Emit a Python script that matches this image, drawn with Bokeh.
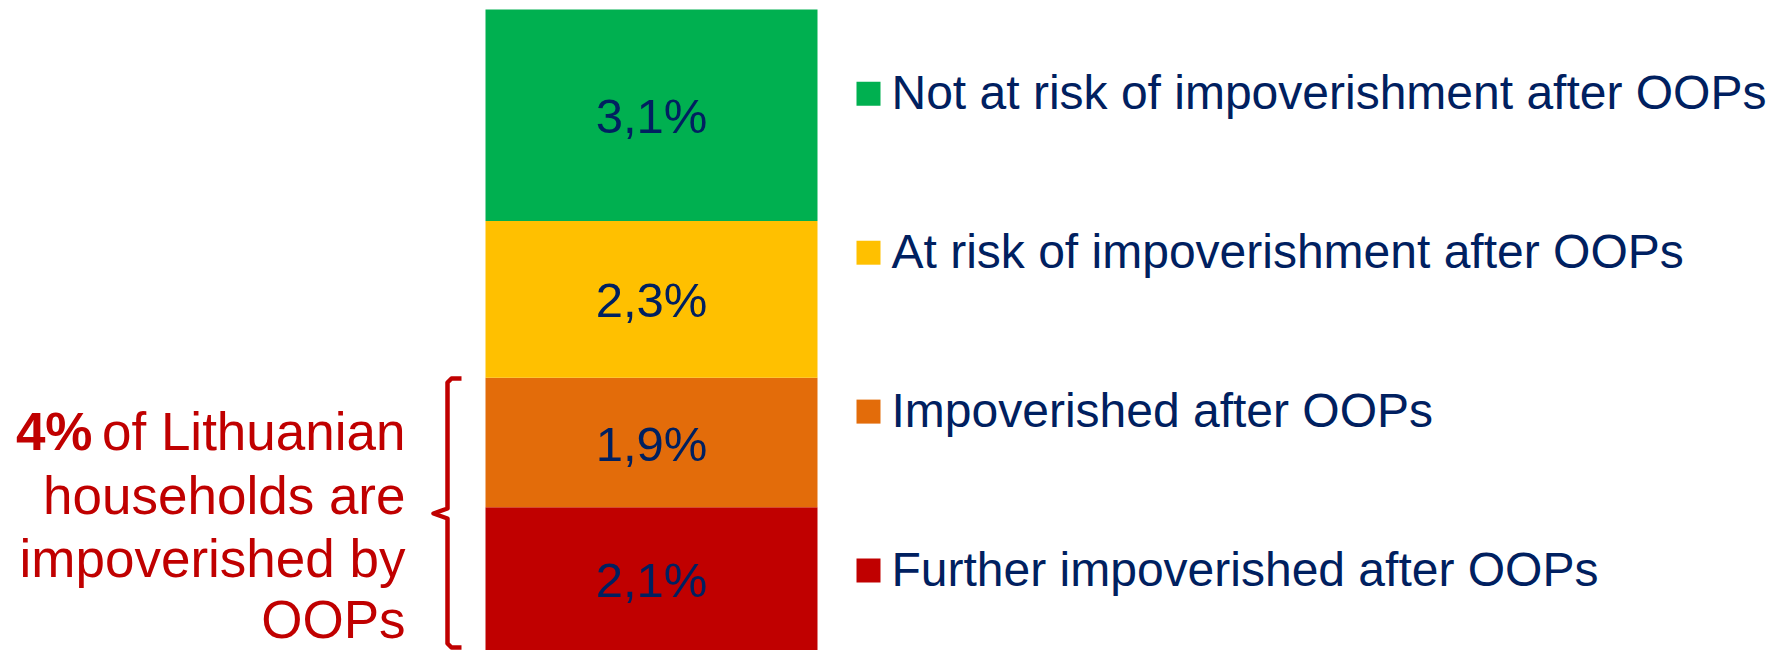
import numpy as np
from bokeh.plotting import figure
from bokeh.models import Range1d, ColumnDataSource
from bokeh.core.properties import value
from bokeh.embed import file_html
from bokeh.resources import INLINE

# ---- data (stack order bottom -> top) ----
categories = ["Further impoverished after OOPs", "Impoverished after OOPs",
              "At risk of impoverishment after OOPs", "Not at risk of impoverishment after OOPs"]
shares = [2.1, 1.9, 2.3, 3.1]
share_labels = ["2,1%", "1,9%", "2,3%", "3,1%"]
colors = ["#C00000", "#E36C0A", "#FFC000", "#00B050"]
annotation_lines = ["households are", "impoverished by", "OOPs"]
annotation_bold = "4%"
annotation_first = "of Lithuanian"

FONT = value("Liberation Sans")
NAVY = "#002060"
RED = "#C00000"

W, H = 1770, 650
total = float(np.sum(shares))
y_end = total * H / 641.0

p = figure(width=W, height=H, output_backend="svg", toolbar_location=None,
           x_range=Range1d(0, W), y_range=Range1d(0, y_end),
           min_border=0, min_border_left=0, min_border_right=0,
           min_border_top=0, min_border_bottom=0)
p.axis.visible = False
p.grid.visible = False
p.outline_line_color = None
p.background_fill_color = "white"
p.border_fill_color = "white"
p.extra_y_ranges = {"px": Range1d(H, 0)}

tops = np.cumsum(shares)
bottoms = tops - np.array(shares)
src = ColumnDataSource(dict(top=tops, bottom=bottoms, color=colors,
                            mid=(tops + bottoms) / 2 - 0.015, label=share_labels))
p.vbar(x=651, width=332, top="top", bottom="bottom", color="color",
       line_color=None, source=src)
p.text(x=651, y="mid", text="label", source=src, text_align="center",
       text_baseline="middle", text_font=FONT, text_font_size="49px",
       text_color=NAVY)

# ---- legend (top -> bottom) ----
leg_names = categories[::-1]
leg_colors = colors[::-1]
row_c = [90.3 + 158.9 * i for i in range(len(leg_names))]
p.scatter(x=[868] * 4, y=[c + 3 for c in row_c], marker="square", size=24,
          color=leg_colors, line_color=None, y_range_name="px")
p.text(x=[891] * 4, y=[c + 2 for c in row_c], text=leg_names, text_align="left",
       text_baseline="middle", text_font=FONT, text_font_size="48px",
       text_color=NAVY, y_range_name="px")

# ---- left annotation ----
ann_c = [431, 495, 558, 619]
p.text(x=[405], y=[ann_c[0]], text=[annotation_first], text_align="right",
       text_baseline="middle", text_font=FONT, text_font_size="53px",
       text_color=RED, y_range_name="px")
p.text(x=[92], y=[ann_c[0]], text=[annotation_bold], text_align="right",
       text_baseline="middle", text_font=FONT, text_font_size="53px",
       text_font_style="bold", text_color=RED, y_range_name="px")
p.text(x=[405] * 3, y=ann_c[1:], text=annotation_lines,
       text_align="right", text_baseline="middle", text_font=FONT,
       text_font_size="53px", text_color=RED, y_range_name="px")

# ---- bracket ----
bx = [461, 451, 447, 447, 433, 447, 447, 451, 461]
by = [378, 378, 382, 508, 513, 518, 643, 647, 647]
p.line(x=bx, y=by, line_color=RED, line_width=4.5, line_join="round",
       y_range_name="px")

open("out.html", "w").write(file_html(p, INLINE))
